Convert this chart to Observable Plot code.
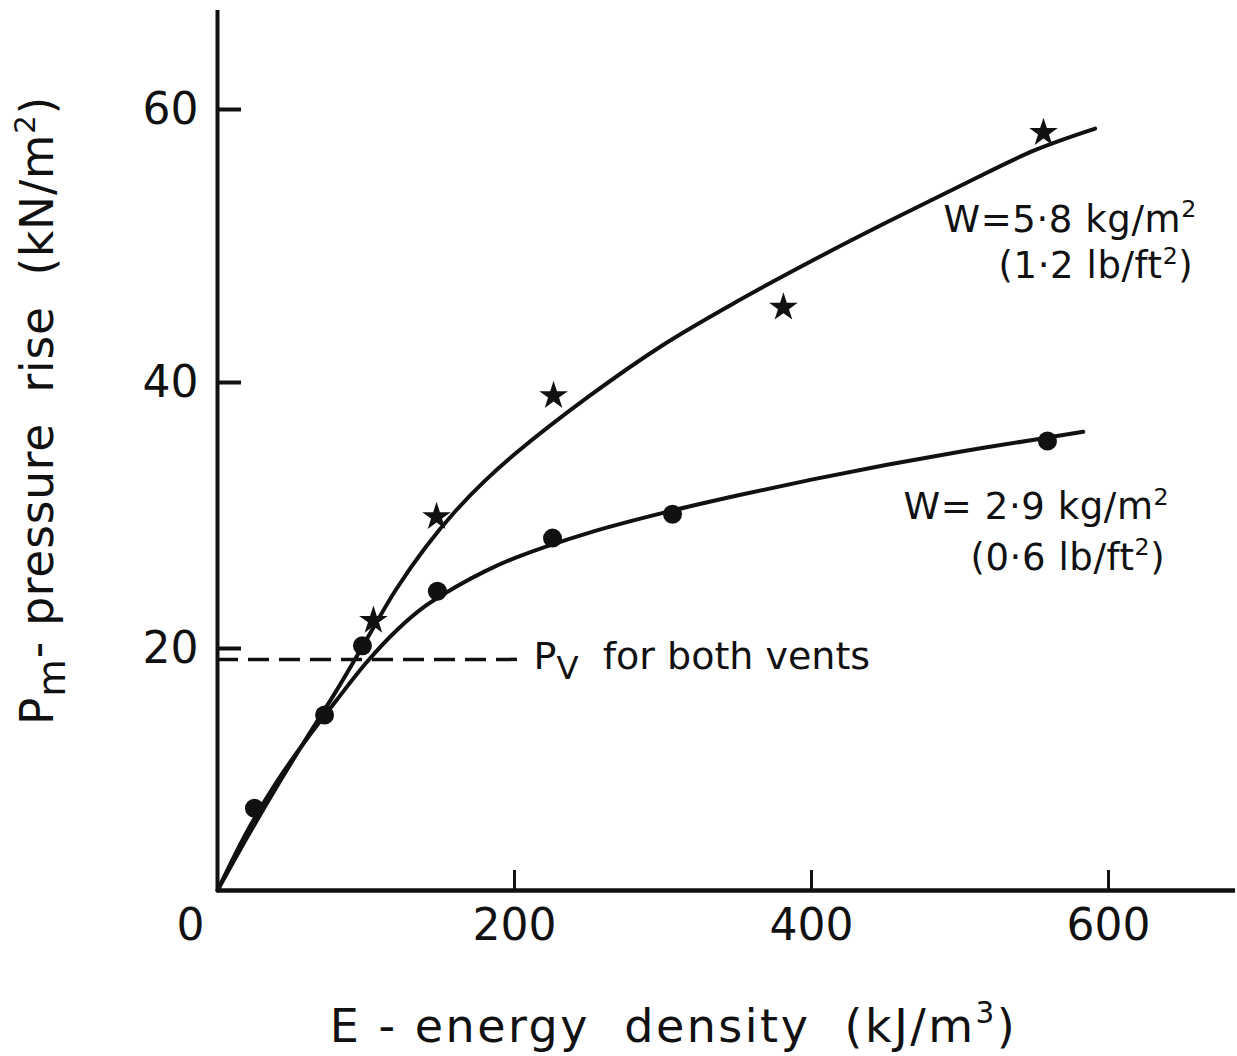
<!DOCTYPE html>
<html>
<head>
<meta charset="utf-8">
<script src="https://cdn.jsdelivr.net/npm/d3@7"></script>
<script src="https://cdn.jsdelivr.net/npm/@observablehq/plot@0.6"></script>
<style>
  html, body { margin: 0; padding: 0; background: #fff; }
  #chart { width: 1237px; height: 1056px; }
</style>
</head>
<body>
<div id="chart"></div>
<script>
// ---- data ----
const circleEnergy   = [24.9, 72.1, 97.6, 148.1, 225.6, 306.4, 558.9];
const circlePressure = [6.8, 14.5, 20.2, 24.3, 28.3, 30.1, 35.6];
const starEnergy     = [105, 147.5, 226.3, 381.1, 556.2];
const starPressure   = [22.1, 29.9, 39.0, 45.5, 58.3];

// fitted curves
const upperCurveEnergy   = [0, 20, 40, 60, 80, 100, 120, 140, 160, 180, 200, 250, 300, 350, 400, 450, 500, 550, 591];
const upperCurvePressure = [0, 4.4, 8.6, 12.6, 16.5, 20.6, 24.4, 27.6, 30.3, 32.6, 34.6, 38.95, 42.75, 45.95, 48.9, 51.7, 54.4, 57.0, 58.6];
const lowerCurveEnergy   = [0, 20, 40, 60, 80, 100, 120, 140, 160, 180, 200, 250, 300, 350, 400, 450, 500, 550, 583];
const lowerCurvePressure = [0, 4.9, 9.0, 12.5, 15.7, 18.8, 21.3, 23.2, 24.6, 25.8, 26.8, 28.7, 30.2, 31.5, 32.7, 33.8, 34.8, 35.7, 36.3];

const ventPressure = 19.1;      // P_V for both vents
const ventLineEnd  = 202.7;     // energy where the dashed line stops

const xTicks = [200, 400, 600];
const xTickLabels = [0, 200, 400, 600];
const yTicks = [20, 40, 60];

const xTitle = "E - energy  density  (kJ/m^{3})";
const yTitle = "P_{m}- pressure  rise  (kN/m^{2})";
const seriesLabels = ["W=5·8 kg/m^{2}", "(1·2 lb/ft^{2})", "W= 2·9 kg/m^{2}", "(0·6 lb/ft^{2})"];
const ventLabel = "P_{V}  for both vents";

// ---- tables built from the arrays ----
const circles = circleEnergy.map((e, i) => ({E: e, P: circlePressure[i]}));
const stars = starEnergy.map((e, i) => ({E: e, P: starPressure[i]}));
const upper = upperCurveEnergy.map((e, i) => ({E: e, P: upperCurvePressure[i]}));
const lower = lowerCurveEnergy.map((e, i) => ({E: e, P: lowerCurvePressure[i]}));

const ink = "#111";
const W = 1237, H = 1056;
const mL = 217, mR = 2, mT = 10, mB = 166;
const frameW = W - mL - mR, frameH = H - mT - mB;

// the hand-drawn vertical axis is not quite uniform: calibrate it piecewise
const yWarp = d3.scaleLinear().domain([0, 20, 40, 60]).range([0, 242, 508, 781]);

const chart = Plot.plot({
  width: W, height: H,
  marginLeft: mL, marginRight: mR, marginTop: mT, marginBottom: mB,
  x: {domain: [0, 685.5], axis: null},
  y: {transform: v => yWarp(v), domain: [0, 880], axis: null},
  style: {fontFamily: "DejaVu Sans", color: ink, background: "#fff", overflow: "visible"},
  marks: [
    // axes
    Plot.ruleX([0], {stroke: ink, strokeWidth: 4}),
    Plot.ruleY([0], {stroke: ink, strokeWidth: 4.5}),
    Plot.tickY(yTicks, {y: d => d, stroke: ink, strokeWidth: 4, insetRight: frameW - 24}),
    Plot.tickX(xTicks, {x: d => d, stroke: ink, strokeWidth: 3, insetTop: frameH - 20}),
    Plot.text(yTicks, {y: d => d, text: d => String(d), frameAnchor: "left", dx: -19, textAnchor: "end", fontSize: 44, fill: ink}),
    Plot.text(xTickLabels.filter(d => d > 0), {x: d => d, text: d => String(d), frameAnchor: "bottom", dy: 49, fontSize: 44, fill: ink}),
    Plot.text(xTickLabels.filter(d => d === 0), {x: d => d, text: d => String(d), frameAnchor: "bottom", dx: -27, dy: 49, fontSize: 44, fill: ink}),
    Plot.text([xTitle], {text: d => d, frameAnchor: "bottom", textAnchor: "middle", dx: -53, dy: 151, fontSize: 46, fill: ink}),
    Plot.text([yTitle], {text: d => d, frameAnchor: "left", textAnchor: "middle", dx: -179, dy: -40, rotate: -90, fontSize: 45.5, fill: ink}),
    // P_V dashed line
    Plot.ruleY([ventPressure], {x1: 0, x2: ventLineEnd, stroke: ink, strokeWidth: 3.5, strokeDasharray: "21,10"}),
    Plot.text([ventLabel], {x: () => 212.8, y: () => 19.3, text: d => d, textAnchor: "start", fontSize: 38, fill: ink}),
    // curves
    Plot.line(upper, {x: "E", y: "P", curve: "catmull-rom", stroke: ink, strokeWidth: 4}),
    Plot.line(lower, {x: "E", y: "P", curve: "catmull-rom", stroke: ink, strokeWidth: 4}),
    // points
    Plot.dot(circles, {x: "E", y: "P", r: 9.5, fill: ink, stroke: "none"}),
    Plot.dot(stars, {x: "E", y: "P", symbol: "star", r: 9, fill: ink, stroke: "none"}),
    // series labels
    Plot.text([seriesLabels[0]], {x: () => 488.9, y: () => 51.9, text: d => d, textAnchor: "start", fontSize: 37, fill: ink}),
    Plot.text([seriesLabels[1]], {x: () => 525.9, y: () => 48.5, text: d => d, textAnchor: "start", fontSize: 37, fill: ink}),
    Plot.text([seriesLabels[2]], {x: () => 462, y: () => 30.6, text: d => d, textAnchor: "start", fontSize: 37, fill: ink}),
    Plot.text([seriesLabels[3]], {x: () => 507, y: () => 26.8, text: d => d, textAnchor: "start", fontSize: 37, fill: ink})
  ]
});

document.getElementById("chart").appendChild(chart);

// turn _{..} and ^{..} into real subscript / superscript tspans
d3.select(chart).selectAll("text").each(function() {
  const s = this.textContent;
  if (!/[_^]\{/.test(s)) return;
  const fs = parseFloat(getComputedStyle(this).fontSize) || 40;
  const sel = d3.select(this);
  sel.text(null);
  if (fs >= 46) sel.attr("letter-spacing", 2.5);
  else if (fs >= 45) sel.attr("letter-spacing", 0.8);
  else if (fs <= 37) sel.attr("letter-spacing", 0.6);
  const re = /([_^])\{([^}]*)\}/g;
  let last = 0, m, cur = 0;
  const add = (t, kind) => {
    if (!t) return;
    let target = 0, size = null;
    if (kind === "^") { target = -0.40 * fs; size = 0.64 * fs; }
    else if (kind === "_") { target = 0.26 * fs; size = 0.85 * fs; }
    const ts = sel.append("tspan").text(t).attr("dy", target - cur);
    if (size) ts.attr("font-size", size);
    cur = target;
  };
  while ((m = re.exec(s))) {
    add(s.slice(last, m.index), null);
    add(m[2], m[1]);
    last = re.lastIndex;
  }
  add(s.slice(last), null);
});
</script>
</body>
</html>
